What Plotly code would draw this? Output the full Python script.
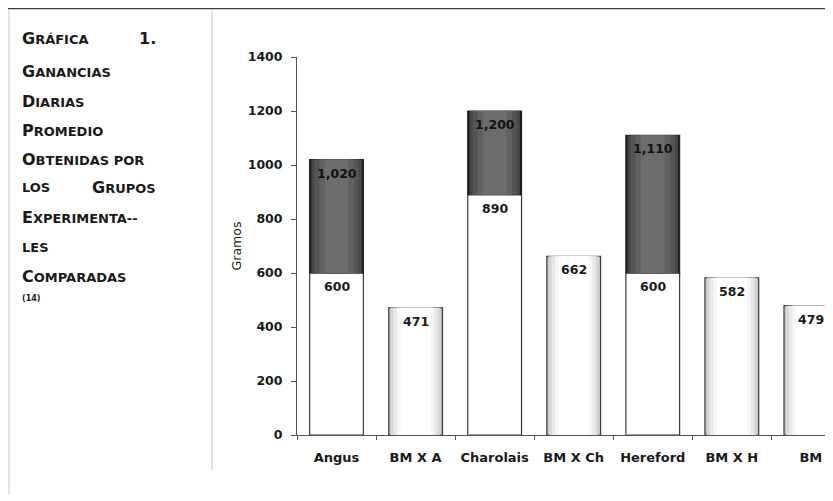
import plotly.graph_objects as go

# ---------------- data ----------------
categories = ["Angus", "BM X A", "Charolais", "BM X Ch", "Hereford", "BM X H", "BM"]
lower_values = [600, 471, 890, 662, 600, 582, 479]          # white / grey bars
upper_totals = [1020, None, 1200, None, 1110, None, None]    # dark stacked top (total)
is_crossbred = [False, True, False, True, False, True, True]
y_ticks = [0, 200, 400, 600, 800, 1000, 1200, 1400]
y_title = "Gramos"
side_lines = [
    ("G", "RÁFICA", "1."),
    ("G", "ANANCIAS", None),
    ("D", "IARIAS", None),
    ("P", "ROMEDIO", None),
    ("O", "BTENIDAS POR", None),
    ("", "LOS", "GRUPOS"),
    ("E", "XPERIMENTA--", None),
    ("", "LES", None),
    ("C", "OMPARADAS", None),
]
side_note = "(14)"

# ---------------- geometry ----------------
OFF = 8                      # page body margin offset
W, H = 833 - OFF, 501 - OFF
PL, PR, PT, PB = 297, 833, 57, 435  # plot area in screen pixels


def px(x):
    return (x - PL) / (PR - PL)


def py(y):
    return (PB - y) / (PB - PT)


FONT = "DejaVu Sans"
fig = go.Figure()

cross_x = [c for c, b in zip(categories, is_crossbred) if b]
cross_y = [v for v, b in zip(lower_values, is_crossbred) if b]
pure_x = [c for c, b in zip(categories, is_crossbred) if not b]
pure_y = [v for v, b in zip(lower_values, is_crossbred) if not b]
stack_x = [c for c, t in zip(categories, upper_totals) if t is not None]
stack_base = [v for v, t in zip(lower_values, upper_totals) if t is not None]
stack_h = [t - v for v, t in zip(lower_values, upper_totals) if t is not None]

# white (pure breed) lower bars
fig.add_trace(go.Bar(x=pure_x, y=pure_y, width=0.68,
                     marker=dict(color="#ffffff", line=dict(color="#3a3a3a", width=1.2)),
                     hoverinfo="skip"))

# light grey cylinder-like crossbred bars
grey_layers = [(0.68, "#c6c6c6"), (0.63, "#d6d6d6"), (0.56, "#e8e8e8"), (0.47, "#f6f6f6"), (0.38, "#ffffff")]
for i, (w, c) in enumerate(grey_layers):
    fig.add_trace(go.Bar(x=cross_x, y=cross_y, width=w,
                         marker=dict(color=c, line=dict(color="#3a3a3a", width=1.2 if i == 0 else 0)),
                         hoverinfo="skip"))

# dark stacked tops
dark_layers = [(0.68, "#1c1c1c"), (0.64, "#474747"), (0.56, "#555555"), (0.44, "#616161"), (0.30, "#6c6c6c")]
for i, (w, c) in enumerate(dark_layers):
    fig.add_trace(go.Bar(x=stack_x, y=stack_h, base=stack_base, width=w,
                         marker=dict(color=c, line=dict(color="#222", width=1.2 if i == 0 else 0)),
                         hoverinfo="skip"))

annotations = []
# value labels
for c, v in zip(categories, lower_values):
    annotations.append(dict(x=c, y=v, xref="x", yref="y", text=f"{v:,}", showarrow=False,
                            yanchor="top", yshift=-4,
                            font=dict(family=FONT, size=12.5, color="#1a1a1a", weight="bold")))
for c, t in zip(categories, upper_totals):
    if t is not None:
        annotations.append(dict(x=c, y=t, xref="x", yref="y", text=f"{t:,}", showarrow=False,
                                yanchor="top", yshift=-4,
                                font=dict(family=FONT, size=12.5, color="#111", weight="bold")))

# left panel caption (small caps)
CAP, SMALL = 16, 13
line_y = [38, 72, 101, 130, 159, 188, 217, 247, 276]
for (cap, rest, right), yy in zip(side_lines, line_y):
    if cap:
        txt = f"<span style='font-size:{CAP}px'>{cap}</span>{rest}"
    else:
        txt = rest
    annotations.append(dict(x=px(20), y=py(yy), xref="paper", yref="paper", text=txt,
                            showarrow=False, xanchor="left", yanchor="middle",
                            font=dict(family=FONT, size=SMALL, color="#1a1a1a", weight="bold")))
    if right:
        rt = right if right == "1." else f"<span style='font-size:{CAP}px'>{right[0]}</span>{right[1:]}"
        annotations.append(dict(x=px(158), y=py(yy), xref="paper", yref="paper", text=rt,
                                showarrow=False, xanchor="right", yanchor="middle",
                                font=dict(family=FONT, size=CAP if right == "1." else SMALL,
                                          color="#1a1a1a", weight="bold")))
annotations.append(dict(x=px(20), y=py(298), xref="paper", yref="paper", text=side_note,
                        showarrow=False, xanchor="left", yanchor="middle",
                        font=dict(family=FONT, size=8, color="#1a1a1a", weight="bold")))

# page frame lines
shapes = [
    dict(type="line", xref="paper", yref="paper", x0=px(8), x1=px(833), y0=py(8.5), y1=py(8.5),
         line=dict(color="#3c3c3c", width=1.5)),
    dict(type="line", xref="paper", yref="paper", x0=px(9), x1=px(9), y0=py(9), y1=py(495),
         line=dict(color="#c8c8c8", width=1)),
    dict(type="line", xref="paper", yref="paper", x0=px(212), x1=px(212), y0=py(9), y1=py(470),
         line=dict(color="#c8c8c8", width=1)),
    dict(type="line", xref="paper", yref="paper", x0=px(830), x1=px(830), y0=py(9), y1=py(60),
         line=dict(color="#d0d0d0", width=1)),
]

fig.update_layout(
    width=W, height=H,
    margin=dict(l=PL - OFF, r=833 - PR, t=PT - OFF, b=501 - PB, pad=0),
    paper_bgcolor="white", plot_bgcolor="white",
    barmode="overlay", showlegend=False,
    annotations=annotations, shapes=shapes,
    font=dict(family=FONT, color="#1a1a1a"),
)
fig.update_xaxes(type="category", categoryorder="array", categoryarray=categories,
                 range=[-0.5, 6.28], showgrid=False, showline=True, linecolor="#555", linewidth=1,
                 ticks="outside", tickson="boundaries", ticklen=4, tickcolor="#555",
                 ticklabelstandoff=10,
                 tickfont=dict(family=FONT, size=13, color="#1a1a1a", weight="bold"),
                 zeroline=False)
fig.update_yaxes(range=[0, 1400], tickvals=y_ticks, showgrid=False, showline=True,
                 linecolor="#555", linewidth=1, ticks="outside", ticklen=5, tickcolor="#555",
                 ticklabelstandoff=6,
                 tickfont=dict(family=FONT, size=12.5, color="#1a1a1a", weight="bold"),
                 title=dict(text=y_title, font=dict(family=FONT, size=12.5, color="#1a1a1a"), standoff=3),
                 zeroline=False)

fig.write_html("out.html")
